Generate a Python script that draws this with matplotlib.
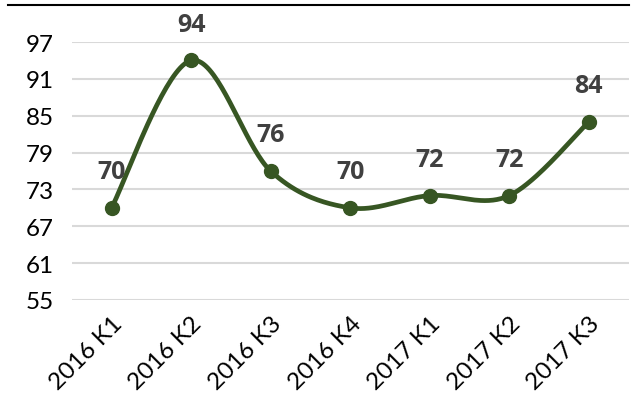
import numpy as np
import matplotlib.pyplot as plt
from matplotlib.lines import Line2D

kategoriler = ["2016 K1", "2016 K2", "2016 K3", "2016 K4", "2017 K1", "2017 K2", "2017 K3"]
degerler = [70, 94, 76, 70, 72, 72, 84]
y_ticks = [55, 61, 67, 73, 79, 85, 91, 97]

plt.rcParams['font.family'] = ['Lato', 'DejaVu Sans']

yesil = "#375623"


def excel_smooth(x, y, n=40):
    # bezier segments like Excel's smoothed line
    x = np.asarray(x, float)
    y = np.asarray(y, float)
    xs, ys = [], []
    for i in range(len(x) - 1):
        p0 = np.array([x[max(i - 1, 0)], y[max(i - 1, 0)]])
        p1 = np.array([x[i], y[i]])
        p2 = np.array([x[i + 1], y[i + 1]])
        p3 = np.array([x[min(i + 2, len(x) - 1)], y[min(i + 2, len(x) - 1)]])
        c1 = p1 + (p2 - p0) / 6
        c2 = p2 - (p3 - p1) / 6
        t = np.linspace(0, 1, n)[:, None]
        b = (1 - t) ** 3 * p1 + 3 * (1 - t) ** 2 * t * c1 + 3 * (1 - t) * t ** 2 * c2 + t ** 3 * p2
        xs.extend(b[:, 0])
        ys.extend(b[:, 1])
    return np.array(xs), np.array(ys)


fig = plt.figure(figsize=(6.35, 4.1), dpi=100)
ax = fig.add_axes([0.113, 0.266, 0.877, 0.629])

x = np.arange(len(kategoriler))
sx, sy = excel_smooth(x, degerler)
ax.plot(sx, sy, color=yesil, lw=3.4, solid_capstyle="round", zorder=3)
ax.plot(x, degerler, "o", color=yesil, ms=10, zorder=4)

for xi, v in zip(x, degerler):
    ax.annotate(str(v), (xi, v), xytext=(0, 17), textcoords="offset points",
                ha="center", va="bottom", fontsize=18, fontweight="bold",
                family=["Open Sans", "DejaVu Sans"], color="#404040")

ax.set_xlim(-0.5, len(kategoriler) - 0.5)
ax.set_ylim(55, 97)
ax.set_yticks(y_ticks)
ax.set_xticks(x)
ax.set_xticklabels(kategoriler, rotation=45, ha="right", rotation_mode="anchor")
ax.tick_params(length=0, labelsize=17.5, colors="black")
ax.tick_params(axis="y", pad=13)
ax.tick_params(axis="x", pad=9)
ax.grid(axis="y", color="#d9d9d9", lw=1.5)
ax.set_axisbelow(True)
for s in ax.spines.values():
    s.set_visible(False)

fig.add_artist(Line2D([0.013, 0.99], [0.985, 0.985], color="black", lw=1.5))

fig.savefig("out.png", dpi=100)
